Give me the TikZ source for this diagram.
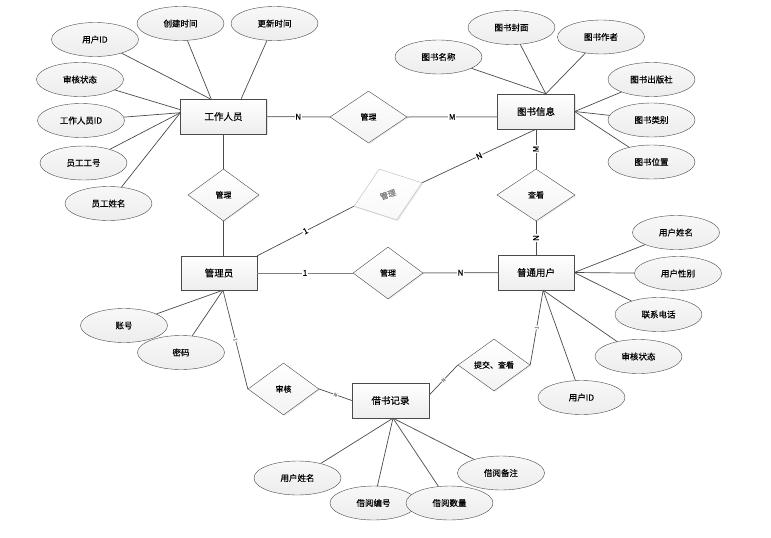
\documentclass[tikz,border=0pt]{standalone}
\usepackage{fontspec}
\setmainfont{Noto Sans CJK SC}[FakeBold=0.4]
\usetikzlibrary{shapes.geometric,shadows}
\definecolor{erline}{HTML}{4A4A4A}
\definecolor{erlink}{HTML}{808080}
\definecolor{erfill}{HTML}{EDEDED}

\begin{document}
\begin{tikzpicture}[
    x=1pt, y=-1pt,
    entity/.style={rectangle, draw=erline, top color=white, bottom color=erfill,
      minimum width=77pt, minimum height=35pt, inner sep=1pt,
      drop shadow={shadow xshift=1.2pt, shadow yshift=-1.2pt, fill=gray!40},
      font=\fontsize{9.5}{10}\selectfont},
    attr/.style={ellipse, draw=erline, top color=white!60!erfill, bottom color=erfill,
      minimum width=87pt, minimum height=34pt, inner sep=0pt,
      font=\fontsize{8.5}{9}\selectfont},
    rel/.style={diamond, draw=erline, top color=white, bottom color=erfill!70,
      minimum width=72pt, minimum height=52pt, inner sep=0pt,
      drop shadow={shadow xshift=1pt, shadow yshift=-1pt, fill=gray!30},
      font=\fontsize{8}{8}\selectfont},
    link/.style={draw=erlink, line width=1pt},
    prop/.style={draw=erline, line width=0.7pt},
    lbl/.style={fill=white, inner sep=0.8pt, font=\fontsize{8}{8}\selectfont},
    minilbl/.style={fill=white, inner sep=0.5pt, sloped, text=gray,
      font=\fontsize{5}{5}\selectfont}]

  \useasboundingbox (0,0) rectangle (771,538);

  % entities
  \node[entity, minimum width=86pt] (staff) at (223.5,116.5) {工作人员};
  \node[entity] (book)   at (536,111.5) {图书信息};
  \node[entity, minimum width=76pt, minimum height=34pt] (admin) at (219,273) {管理员};
  \node[entity, minimum width=76pt] (user)   at (536,272.5) {普通用户};
  \node[entity] (record) at (390.5,400.5) {借书记录};

  % relationships
  \node[rel, minimum width=77pt] (mgrSB) at (368.5,117) {管理};
  \node[rel, minimum width=71pt] (mgrSA) at (223.5,195) {管理};
  \node[rel, minimum width=72pt, minimum height=54pt, rotate=19, draw=gray!55,
        text=gray, bottom color=gray!5,
        drop shadow={shadow xshift=1pt, shadow yshift=-1pt, fill=gray!20}] (mgrAB) at (388,194.5) {管理};
  \node[rel, minimum width=70pt] (mgrAU) at (388,273) {管理};
  \node[rel, minimum width=78pt] (view)  at (536,195) {查看};
  \node[rel, minimum width=71pt] (audit) at (283.5,389) {审核};
  \node[rel] (submit) at (494,365) {提交、查看};

  % attributes of the staff
  \node[attr] (sUid)    at (95,39.5)    {用户ID};
  \node[attr] (sCreate) at (180.5,23.5) {创建时间};
  \node[attr] (sUpdate) at (274.5,23.5) {更新时间};
  \node[attr] (sAudit)  at (80,79.5)    {审核状态};
  \node[attr] (sSid)    at (81,120.5)   {工作人员ID};
  \node[attr] (sNo)     at (83.5,163)   {员工工号};
  \node[attr] (sName)   at (108.5,203.5){员工姓名};

  % attributes of the book
  \node[attr] (bName)   at (438.5,57)   {图书名称};
  \node[attr] (bCover)  at (511.5,27.5) {图书封面};
  \node[attr] (bAuthor) at (601,37)     {图书作者};
  \node[attr] (bPress)  at (651.5,79.5) {图书出版社};
  \node[attr] (bType)   at (651.5,120)  {图书类别};
  \node[attr] (bPlace)  at (651.5,162)  {图书位置};

  % attributes of the user
  \node[attr] (uName)  at (676,232.5)   {用户姓名};
  \node[attr] (uSex)   at (678,273.5)   {用户性别};
  \node[attr] (uTel)   at (658.5,314.5) {联系电话};
  \node[attr] (uAudit) at (638.5,356.5) {审核状态};
  \node[attr] (uId)    at (581.5,397.5) {用户ID};

  % attributes of the admin
  \node[attr] (aAcc) at (124,325.5) {账号};
  \node[attr] (aPwd) at (181,352.5) {密码};

  % attributes of the record
  \node[attr] (rUser) at (297.5,478) {用户姓名};
  \node[attr] (rNote) at (501,473)   {借阅备注};
  \node[attr] (rNo)   at (373.5,503) {借阅编号};
  \node[attr] (rNum)  at (449.5,503) {借阅数量};

  % attribute lines
  \draw[prop] (sUid) -- (staff.127);
  \draw[prop] (sCreate) -- (staff.125);
  \draw[prop] (sUpdate) -- (staff.45);
  \draw[prop] (sAudit) -- (staff.171);
  \draw[prop] (sSid) -- (staff.175);
  \draw[prop] (sNo) -- (staff.175);
  \draw[prop] (sName) -- (staff.175);
  \draw[prop] (bName) -- (book.61);
  \draw[prop] (bCover) -- (book.61);
  \draw[prop] (bAuthor) -- (book.61);
  \draw[prop] (bPress) -- (book.east);
  \draw[prop] (bType) -- (book.east);
  \draw[prop] (bPlace) -- (book.east);
  \draw[prop] (uName) -- (user.east);
  \draw[prop] (uSex) -- (user.east);
  \draw[prop] (uTel) -- (user.east);
  \draw[prop] (uAudit) -- (user.292);
  \draw[prop] (uId) -- (user.292);
  \draw[prop] (aAcc) -- (admin.283);
  \draw[prop] (aPwd) -- (admin.283);
  \draw[prop] (rUser) -- (record.278);
  \draw[prop] (rNo) -- (record.278);
  \draw[prop] (rNum) -- (record.278);
  \draw[prop] (rNote) -- (record.278);

  % relationship lines and cardinalities
  \draw[link] (staff.east) -- (mgrSB.west) node[lbl,pos=0.5] {N};
  \draw[link] (mgrSB.east) -- (book.188) node[lbl,pos=0.5] {M};
  \draw[prop] (staff.south) -- (mgrSA.north);
  \draw[prop] (mgrSA.south) -- (mgrSA.south |- admin.north);
  \draw[prop] (admin.north east) -- (mgrAB.west) node[lbl,pos=0.5,sloped] {1};
  \draw[prop] (mgrAB.east) -- (book.south) node[lbl,pos=0.5,sloped] {N};
  \draw[prop] (book.south) -- (view.north) node[lbl,pos=0.5,rotate=90] {M};
  \draw[prop] (view.south) -- (user.north) node[lbl,pos=0.5,rotate=90] {N};
  \draw[link] (admin.east) -- (mgrAU.west) node[lbl,pos=0.5] {1};
  \draw[link] (mgrAU.east) -- (user.west) node[lbl,pos=0.5] {N};
  \draw[prop] (admin.283) -- (audit.west) node[minilbl,pos=0.5] {1};
  \draw[prop] (audit.east) -- (record.west) node[minilbl,pos=0.5] {N};
  \draw[prop] (record.8) -- (submit.west) node[minilbl,pos=0.5] {N};
  \draw[prop] (submit.east) -- (user.292) node[minilbl,pos=0.5] {1};
\end{tikzpicture}
\end{document}
